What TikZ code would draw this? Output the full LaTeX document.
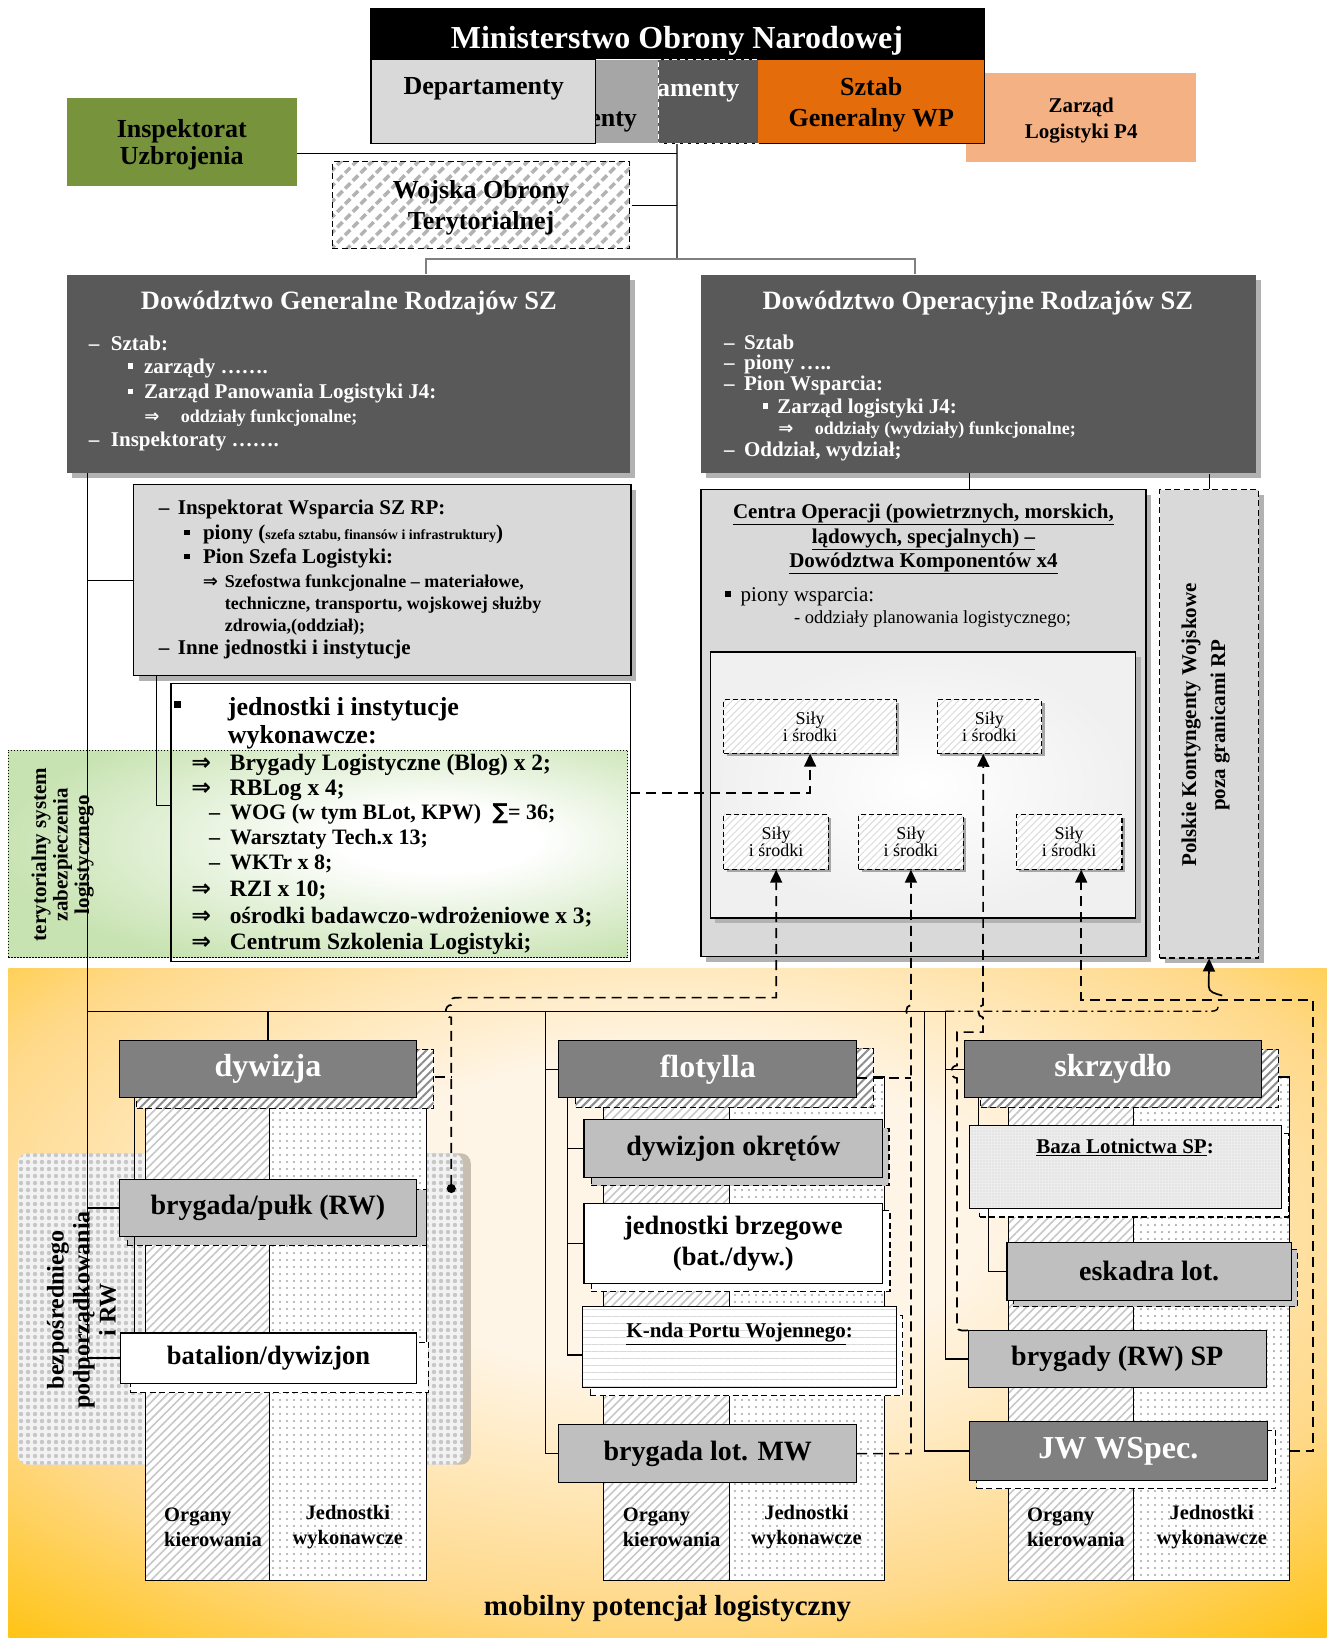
\documentclass[tikz,border=0pt]{standalone}
\usepackage{fontspec}
\setmainfont{Liberation Serif}
\newfontfamily\dvsym{DejaVu Sans}
\usetikzlibrary{fit,shadows,patterns.meta,arrows.meta}

\definecolor{dgray}{HTML}{595959}
\definecolor{mgray}{HTML}{808080}
\definecolor{sgray}{HTML}{BFBFBF}
\definecolor{lgray}{HTML}{D9D9D9}
\definecolor{depgray}{HTML}{A6A6A6}
\definecolor{armygreen}{HTML}{77933C}
\definecolor{sgorange}{HTML}{E46C0A}
\definecolor{p4orange}{HTML}{F4B183}
\definecolor{mobyellow}{HTML}{FFC000}
\definecolor{mobmid}{HTML}{FFD98A}
\definecolor{mobcenter}{HTML}{FFF5E6}
\definecolor{tslgreen}{HTML}{C8E3B2}
\definecolor{tanshadow}{HTML}{C9BEB2}

\pgfdeclareradialshading{mobshade}{\pgfpoint{0bp}{8bp}}{%
  color(0bp)=(mobcenter); color(12bp)=(mobcenter); color(28bp)=(mobmid);
  color(40bp)=(mobyellow); color(75bp)=(mobyellow)}
\pgfdeclareradialshading{tslshade}{\pgfpoint{11bp}{4bp}}{%
  color(0bp)=(white); color(8bp)=(white); color(32bp)=(tslgreen); color(75bp)=(tslgreen)}

\newcommand{\fsz}[2]{\fontsize{#1}{#2}\selectfont}
\newcommand{\sqb}{\raisebox{0.22em}{\rule{0.27em}{0.27em}}}
\newcommand{\impl}{{\dvsym ⇒}}
\newcommand{\lead}[2]{\makebox[#1][l]{#2}}

\tikzset{
  plainbox/.style={draw=black, line width=1.1pt, inner sep=0pt},
  boxshadow/.style={general shadow={fill=black!30, shadow xshift=5pt, shadow yshift=-5pt}},
  dashbox/.style={draw=black, line width=1.1pt, dash pattern=on 6pt off 3.5pt, inner sep=0pt},
  depbox/.style={draw=white, line width=1.2pt, dash pattern=on 5pt off 3pt, inner sep=0pt},
  deptxt/.style={font=\bfseries\fsz{26}{28}, inner sep=0pt},
  boxtxt/.style={font=\bfseries\fsz{26}{31}, align=center, inner sep=0pt, yshift=-3pt},
  hatchbox/.style={dashbox, preaction={fill=white},
    pattern={Lines[angle=45,distance=11pt,line width=3.5pt]}, pattern color=black!30},
  headbox/.style={plainbox, fill=mgray},
  headtxt/.style={font=\bfseries\fsz{32}{34}, text=white, inner sep=0pt},
  subbox/.style={plainbox, fill=sgray},
  subtxt/.style={font=\bfseries\fsz{28}{31}, align=center, inner sep=0pt},
  hatchshadow/.style={dashbox, preaction={fill=white},
    pattern={Lines[angle=45,distance=6pt,line width=2pt]}, pattern color=black!45},
  grayshadow/.style={dashbox, fill=black!22},
  whiteshadow/.style={dashbox, fill=white},
  orgcol/.style={draw=black, line width=1.1pt, inner sep=0pt, preaction={fill=white},
    pattern={Lines[angle=45,distance=6pt,line width=1.6pt]}, pattern color=black!22},
  jedcol/.style={draw=black, line width=1.1pt, inner sep=0pt, preaction={fill=white},
    pattern={Dots[radius=1.2pt,distance=7pt]}, pattern color=black!35},
  wavebox/.style={plainbox, preaction={fill=white},
    pattern={Lines[angle=0,distance=7pt,line width=0.8pt]}, pattern color=black!15},
  bazabox/.style={plainbox, preaction={fill=black!7},
    pattern={Dots[radius=0.6pt,distance=3pt]}, pattern color=black!20},
  sila/.style={general shadow={fill=black!35, shadow xshift=3pt, shadow yshift=-3pt},
    preaction={fill=white}, pattern={Lines[angle=45,distance=5pt,line width=1pt]},
    pattern color=black!14, draw=black, line width=1.1pt, dash pattern=on 5pt off 3pt,
    inner sep=0pt},
  silatxt/.style={font=\fsz{18}{17}, align=center, inner sep=0pt},
  wline/.style={anchor=west, inner sep=0pt, font=\bfseries\fsz{21}{22}, text=white},
  bline/.style={wline, text=black},
  jline/.style={bline, font=\bfseries\fsz{23.5}{25}},
  coltxt/.style={font=\bfseries\fsz{20.5}{25.5}, align=center, inner sep=0pt},
  conn/.style={line width=1.3pt},
  rel/.style={line width=1.7pt, dash pattern=on 10pt off 6pt},
  uparrow/.style={-{Triangle[length=13pt,width=12pt]}},
}

\begin{document}
\begin{tikzpicture}[x=1.0447pt, y=-1.0447pt]
\useasboundingbox (0,0) rectangle (1276,1568);

% mobile part, background
\node[fit={(8,927)(1270,1568)}, inner sep=0pt, shading=mobshade] (mob) {};
\node[font=\bfseries\fsz{29}{30}, inner sep=0pt] (mobtxt) at (639,1540) {mobilny potencjał logistyczny};

% ministry
\node[plainbox, draw=none, fill=p4orange, fit={(925,70)(1145,155)}] (p4) {};
\node[boxtxt, font=\bfseries\fsz{21}{26}] (p4t) at (p4.center) {Zarząd\\Logistyki P4};
\node[plainbox, fill=black, fit={(355,8)(942,137)}] (mon) {};
\node[font=\bfseries\fsz{32}{34}, text=white, inner sep=0pt] (montxt) at (648,39) {Ministerstwo Obrony Narodowej};
\node[depbox, fill=dgray, fit={(470,57)(726,137)}] (dep3) {};
\node[deptxt, text=white] (dep3txt) at (631,87) {Departamenty};
\node[depbox, fill=depgray, fit={(420,57)(630,137)}] (dep2) {};
\node[deptxt] (dep2txt) at (533,116) {Departamenty};
\node[plainbox, fill=lgray, fit={(356,57)(570,137)}] (dep1) {};
\node[deptxt] (dep1txt) at (463,85) {Departamenty};
\node[plainbox, draw=none, fill=sgorange, fit={(726,57)(942,137)}] (sgwp) {};
\node[boxtxt] (sgwpt) at (sgwp.center) {Sztab\\Generalny WP};

\node[plainbox, draw=none, fill=armygreen, fit={(64,94)(284,178)}] (iu) {};
\node[boxtxt, font=\bfseries\fsz{26}{27}] (iut) at (iu.center) {Inspektorat\\Uzbrojenia};
\node[hatchbox, fit={(318,155)(603,238)}] (wot) {};
\node[boxtxt] (wott) at (wot.center) {Wojska Obrony\\Terytorialnej};

% general and operational command
\node[plainbox, draw=none, fill=dgray, boxshadow, fit={(64,263)(603,453)}] (dg) {};
\node[font=\bfseries\fsz{26.5}{28}, text=white, inner sep=0pt] (dgttl) at (334,290) {Dowództwo Generalne Rodzajów SZ};
\node[wline] (dg1) at (85,329) {\lead{22pt}{–}Sztab:};
\node[wline] (dg2) at (122,353) {\lead{16.5pt}{\sqb}zarządy …….};
\node[wline] (dg3) at (122,377) {\lead{16.5pt}{\sqb}Zarząd Panowania Logistyki J4:};
\node[wline, font=\bfseries\fsz{18}{19}] (dg4) at (138,400) {\lead{36.5pt}{\impl}oddziały funkcjonalne;};
\node[wline] (dg5) at (85,423) {\lead{22pt}{–}Inspektoraty …….};

\node[plainbox, draw=none, fill=dgray, boxshadow, fit={(671,263)(1202,453)}] (do) {};
\node[font=\bfseries\fsz{26.5}{28}, text=white, inner sep=0pt] (dottl) at (936,290) {Dowództwo Operacyjne Rodzajów SZ};
\node[wline] (do1) at (693,328) {\lead{20pt}{–}Sztab};
\node[wline] (do2) at (693,349) {\lead{20pt}{–}piony …..};
\node[wline] (do3) at (693,369) {\lead{20pt}{–}Pion Wsparcia:};
\node[wline] (do4) at (730,391) {\lead{14.5pt}{\sqb}Zarząd logistyki J4:};
\node[wline, font=\bfseries\fsz{18}{19}] (do5) at (745,412) {\lead{36.5pt}{\impl}oddziały (wydziały) funkcjonalne;};
\node[wline] (do6) at (693,432) {\lead{20pt}{–}Oddział, wydział;};

% links at the top
\coordinate (trunk) at (648,248);
\coordinate (iuj) at (648,147);
\coordinate (dgj) at (408,248);
\coordinate (doj) at (876,248);
\draw[line width=2.5pt, dgray] (mon.south -| trunk) -- (trunk);
\draw[conn] (iu.east |- iuj) -- (iuj);
\draw[conn] (wot.east) -- (wot.east -| trunk);
\draw[line width=1.5pt, gray] (dgj |- dg.north) -- (dgj) -- (doj) -- (doj |- do.north);

% support inspectorate
\node[plainbox, fill=lgray, boxshadow, fit={(128,464)(604,647)}] (iw) {};
\node[bline] (iw1) at (152,488) {\lead{19pt}{–}Inspektorat Wsparcia SZ RP:};
\node[bline] (iw2) at (176,512) {\lead{19pt}{\sqb}piony ({\fsz{14}{15}szefa sztabu, finansów i infrastruktury})};
\node[bline] (iw3) at (176,535) {\lead{19pt}{\sqb}Pion Szefa Logistyki:};
\node[bline, font=\bfseries\fsz{18}{22}, align=left] (iw4) at (194,579) {\lead{22pt}{\impl}Szefostwa funkcjonalne – materiałowe,\\\hspace*{22pt}techniczne, transportu, wojskowej służby\\\hspace*{22pt}zdrowia,(oddział);};
\node[bline] (iw5) at (152,622) {\lead{19pt}{–}Inne jednostki i instytucje};

% executive units and territorial system
\node[plainbox, draw=none, fill=white, fit={(164,655)(603,920)}] (jedn) {};
\node[fit={(8,718)(601,917)}, inner sep=0pt, shading=tslshade, draw=black, line width=1pt, dash pattern=on 1.2pt off 1.8pt] (tsl) {};
\draw[line width=1.5pt] (jedn.north west) rectangle (jedn.south east);
\node[rotate=90, font=\bfseries\fsz{21}{21.5}, align=center, inner sep=0pt] (tsltxt) at (60,818) {terytorialny system\\zabezpieczenia\\logistycznego};
\node[inner sep=0pt, font=\fsz{24}{24}] (jbul) at (170,677) {\sqb};
\node[bline, font=\bfseries\fsz{26}{28}, align=left] (jhead) at (218,692) {jednostki i instytucje\\wykonawcze:};
\node[jline] (j1) at (183,732) {\lead{38.5pt}{\impl}Brygady Logistyczne (Blog) x 2;};
\node[jline] (j2) at (183,757) {\lead{38.5pt}{\impl}RBLog x 4;};
\node[jline, font=\bfseries\fsz{22}{23}] (j3) at (200,779) {\lead{21pt}{–}WOG (w tym BLot, KPW)\ \ {\dvsym ∑}= 36;};
\node[jline, font=\bfseries\fsz{22}{23}] (j4) at (200,803) {\lead{21pt}{–}Warsztaty Tech.x 13;};
\node[jline, font=\bfseries\fsz{22}{23}] (j5) at (200,827) {\lead{21pt}{–}WKTr x 8;};
\node[jline] (j6) at (183,852) {\lead{38.5pt}{\impl}RZI x 10;};
\node[jline] (j7) at (183,878) {\lead{38.5pt}{\impl}ośrodki badawczo-wdrożeniowe x 3;};
\node[jline] (j8) at (183,904) {\lead{38.5pt}{\impl}Centrum Szkolenia Logistyki;};

% operations centres
\node[plainbox, fill=lgray, boxshadow, fit={(671,469)(1097,916)}] (co) {};
\node[font=\bfseries\fsz{21}{24.5}, align=center, inner sep=0pt] (cottl) at (884,516) {\underline{Centra Operacji (powietrznych, morskich,}\\\underline{lądowych, specjalnych) –}\\\underline{Dowództwa Komponentów x4}};
\node[bline, font=\fsz{21}{22}] (co1) at (694,571) {\lead{15.5pt}{\sqb}piony wsparcia:};
\node[bline, font=\fsz{18.5}{19}] (co2) at (760,593) {- oddziały planowania logistycznego;};
\node[draw=black, line width=1.6pt, inner sep=0pt, inner color=white, outer color=black!6, boxshadow, fit={(680,624)(1087,879)}] (cin) {};
\node[sila, fit={(693,670)(858,721)}] (sA) {};
\node[silatxt] (sAt) at (sA.center) {Siły\\i środki};
\node[sila, fit={(897,670)(997,721)}] (sB) {};
\node[silatxt] (sBt) at (sB.center) {Siły\\i środki};
\node[sila, fit={(693,780)(793,832)}] (sC) {};
\node[silatxt] (sCt) at (sC.center) {Siły\\i środki};
\node[sila, fit={(822,780)(922,832)}] (sD) {};
\node[silatxt] (sDt) at (sD.center) {Siły\\i środki};
\node[sila, fit={(973,780)(1074,832)}] (sE) {};
\node[silatxt] (sEt) at (sE.center) {Siły\\i środki};

\node[dashbox, fill=lgray, boxshadow, fit={(1110,469)(1205,917)}] (pkw) {};
\node[rotate=90, font=\bfseries\fsz{21}{29}, align=center, inner sep=0pt] (pkwtxt) at (1154,694) {Polskie Kontyngenty Wojskowe\\poza granicami RP};

\coordinate (dc) at (928,453);
\draw[conn] (dc) -- (dc |- co.north);
\draw[conn] (pkw.north |- do.south) -- (pkw.north);

% direct subordination area
\node[fit={(17,1104)(443,1402)}, inner sep=0pt, rounded corners=10pt,
  general shadow={fill=tanshadow, shadow xshift=8pt, shadow yshift=0pt},
  preaction={fill=black!5}, pattern={Dots[radius=2.2pt,distance=7pt]}, pattern color=black!22] (bez) {};
\node[rotate=90, font=\bfseries\fsz{24}{26}, align=center, inner sep=0pt] (beztxt) at (78,1254) {bezpośredniego\\podporządkowania\\i RW};

% division
\node[orgcol, fit={(139,1055)(258,1513)}] (org1) {};
\node[jedcol, fit={(258,1055)(408,1513)}] (jed1) {};
\node[hatchshadow, fit={(131,1005)(415,1061)}] (dywsh) {};
\node[headbox, fit={(114,996)(399,1051)}] (dyw) {};
\node[headtxt] (dywt) at (dyw.center) {dywizja};
\node[grayshadow, fit={(122,1139)(408,1192)}] (brygsh) {};
\node[subbox, fit={(114,1129)(399,1184)}] (bryg) {};
\node[subtxt] (brygt) at (bryg.center) {brygada/pułk (RW)};
\node[whiteshadow, fit={(125,1285)(410,1333)}] (batsh) {};
\node[subbox, fill=white, fit={(115,1276)(399,1324)}] (bat) {};
\node[subtxt, font=\bfseries\fsz{26.5}{28}] (batt) at (bat.center) {batalion/dywizjon};
\node[coltxt, anchor=west, align=left] (org1t) at (157,1462) {Organy\\kierowania};
\node[coltxt] (jed1t) at (333,1462) {Jednostki\\wykonawcze};

% flotilla
\node[orgcol, fit={(578,1031)(698,1513)}] (org2) {};
\node[jedcol, fit={(698,1031)(847,1513)}] (jed2) {};
\node[hatchshadow, fit={(551,1004)(836,1060)}] (flosh) {};
\node[headbox, fit={(535,996)(820,1051)}] (flo) {};
\node[headtxt] (flot) at (flo.center) {flotylla};
\node[grayshadow, fit={(566,1080)(851,1135)}] (doksh) {};
\node[subbox, fit={(559,1072)(845,1127)}] (dok) {};
\node[subtxt] (dokt) at (dok.center) {dywizjon okrętów};
\node[whiteshadow, fit={(566,1159)(852,1236)}] (jbrsh) {};
\node[subbox, fill=white, fit={(559,1152)(845,1229)}] (jbr) {};
\node[subtxt, font=\bfseries\fsz{26.5}{31}] (jbrt) at (jbr.center) {jednostki brzegowe\\(bat./dyw.)};
\node[whiteshadow, fit={(565,1259)(864,1336)}] (kndsh) {};
\node[wavebox, fit={(558,1251)(858,1328)}] (knd) {};
\node[font=\bfseries\fsz{21}{22}, inner sep=0pt] (kndt) at (708,1277) {\underline{K-nda Portu Wojennego}:};
\node[subbox, fit={(535,1364)(820,1419)}] (blmw) {};
\node[subtxt] (blmwt) at (blmw.center) {brygada lot. MW};
\node[coltxt, anchor=west, align=left] (org2t) at (596,1462) {Organy\\kierowania};
\node[coltxt] (jed2t) at (772,1462) {Jednostki\\wykonawcze};

% wing
\node[orgcol, fit={(965,1031)(1085,1513)}] (org3) {};
\node[jedcol, fit={(1085,1031)(1234,1513)}] (jed3) {};
\node[hatchshadow, fit={(939,1005)(1224,1060)}] (skrsh) {};
\node[headbox, fit={(923,996)(1208,1051)}] (skr) {};
\node[headtxt] (skrt) at (skr.center) {skrzydło};
\node[whiteshadow, fit={(938,1085)(1233,1165)}] (bazash) {};
\node[bazabox, fit={(928,1077)(1227,1157)}] (baza) {};
\node[font=\bfseries\fsz{21}{22}, inner sep=0pt] (bazat) at (1077,1098) {\underline{Baza Lotnictwa SP}:};
\node[grayshadow, fit={(970,1196)(1242,1251)}] (esksh) {};
\node[subbox, fit={(964,1189)(1236,1245)}] (esk) {};
\node[subtxt] (eskt) at (esk.center) {eskadra lot.};
\node[subbox, fit={(927,1274)(1212,1328)}] (bsp) {};
\node[subtxt] (bspt) at (bsp.center) {brygady (RW) SP};
\node[whiteshadow, fit={(935,1369)(1221,1425)}] (jwsh) {};
\node[headbox, fit={(928,1361)(1213,1417)}] (jw) {};
\node[headtxt] (jwt) at (jw.center) {JW WSpec.};
\node[coltxt, anchor=west, align=left] (org3t) at (983,1462) {Organy\\kierowania};
\node[coltxt] (jed3t) at (1160,1462) {Jednostki\\wykonawcze};

% subordination lines
\coordinate (vl) at (84,453);
\coordinate (bus) at (84,968);
\coordinate (ft) at (522,968);
\coordinate (sj) at (885,968);
\coordinate (sb) at (905,968);
\draw[conn] (vl) |- (bat.west);
\draw[conn] (vl |- iw.west) -- (iw.west);
\draw[conn] (vl |- bryg.west) -- (bryg.west);
\draw[conn] (bus) -- (sb);
\draw[conn] (dyw.north |- bus) -- (dyw.north);
\coordinate (ij) at (150,647);
\draw[conn] (ij) |- ([yshift=17pt]jedn.west);
\coordinate (di) at (129,1051);
\draw[conn] (di) -- (di |- bryg.north);
\draw[conn] (di |- bryg.south) -- (di |- bat.north);
\draw[conn] (ft) |- (blmw.west);
\draw[conn] (ft |- flo.west) -- (flo.west);
\coordinate (fi) at (543,1051);
\draw[conn] (fi) |- ([yshift=-8pt]knd.west);
\draw[conn] (fi |- dok.west) -- (dok.west);
\draw[conn] (fi |- jbr.west) -- (jbr.west);
\draw[conn] (sj) |- (jw.west);
\draw[conn] (sb) |- (bsp.west);
\draw[conn] (sb |- skr.west) -- (skr.west);
\coordinate (si) at (937,1051);
\draw[conn] (si) -- (si |- baza.north);
\coordinate (bi) at (946,1157);
\draw[conn] (bi) |- (esk.west);

% forces and means made available
\draw[rel, uparrow] ([yshift=30pt]jedn.east) -| (sA.south);
\coordinate (dvr) at (432,1031);
\draw[rel] (dywsh.east |- dvr) -- (dvr);
\draw[rel, {Circle[length=9pt]}-{Triangle[length=13pt,width=12pt]}] (432,1142) -- (432,974) .. controls (425,974) and (425,962) .. (432,962) .. controls (432,955) .. (440,955) -| (sC.south);
\coordinate (fvr) at (872,1032);
\draw[rel] (flo.east |- fvr) -- (fvr);
\draw[rel, uparrow] (blmw.east) -| (872,974) .. controls (866,974) and (866,962) .. (872,962) -- (sD.south);
\draw[rel, uparrow] (bsp.north west) .. controls (916,1274) .. (916,1263) -- (916,1032) .. controls (909,1032) and (909,1020) .. (916,1020) -- (916,988) -- (941,988) -- (941,974) .. controls (935,974) and (935,962) .. (941,962) -- ([xshift=-6pt]sB.south);
\draw[rel, uparrow] (jed3.east |- jw.east) -| (1257,957) -| ([xshift=12pt]sE.south);
\draw[line width=1.4pt, dash pattern=on 9pt off 4pt on 2pt off 4pt] (sb) -- (1158,968) .. controls (1166,968) and (1166,966) .. (1166,962);
\draw[line width=1.7pt, uparrow] (1170,953) .. controls (1163,951) and (1157,950) .. (1157,944) -- (pkw.south);
\end{tikzpicture}
\end{document}
